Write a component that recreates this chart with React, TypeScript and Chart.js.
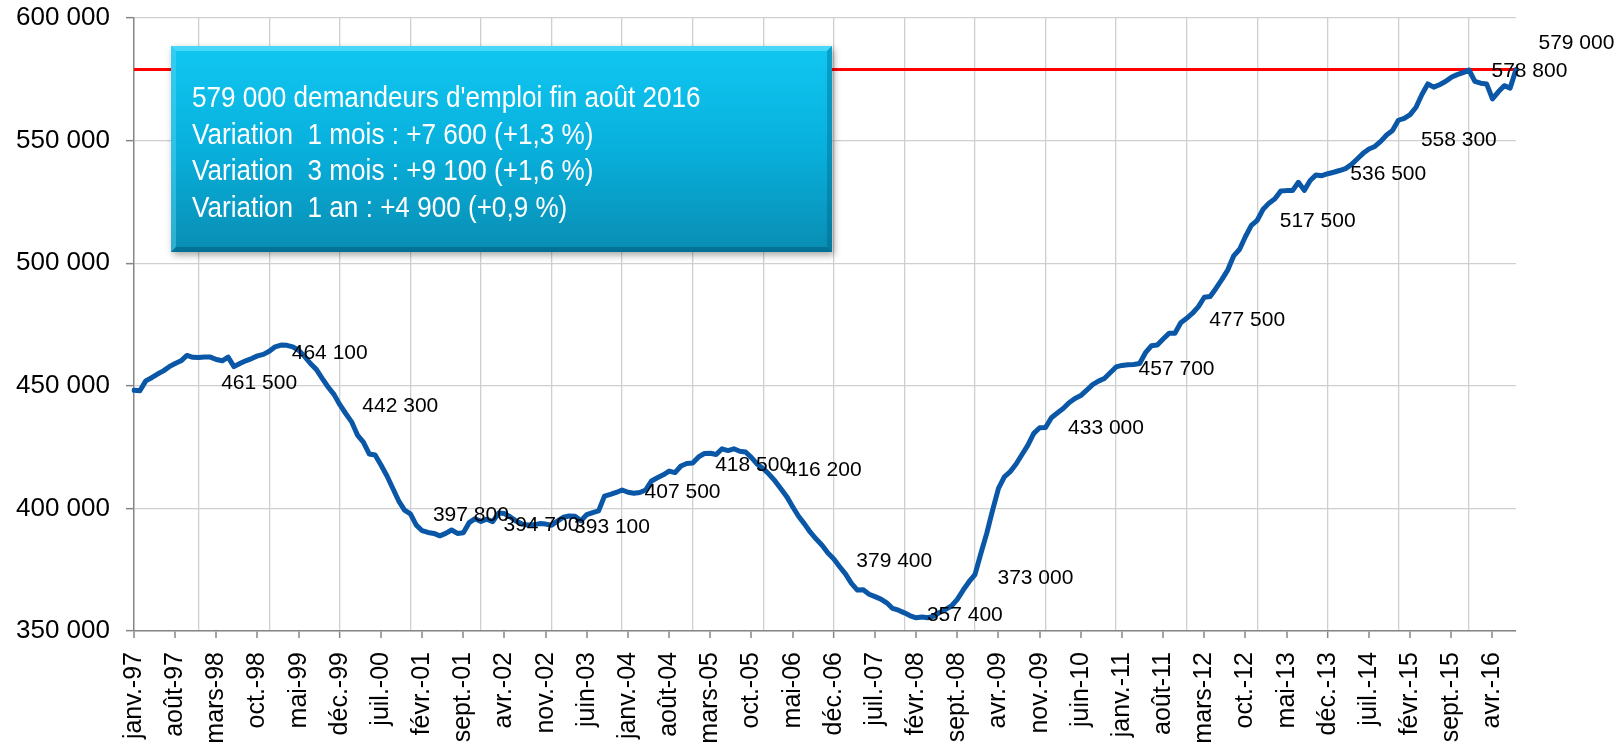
import { useEffect, useRef } from 'react';
import { Chart, registerables } from 'chart.js';

Chart.register(...registerables);

// ---------- data ----------
const MONTH_ABBR = ['janv.', 'févr.', 'mars', 'avr.', 'mai', 'juin', 'juil.', 'août', 'sept.', 'oct.', 'nov.', 'déc.'];
const YEARS = ['97', '98', '99', '00', '01', '02', '03', '04', '05', '06', '07', '08', '09', '10', '11', '12', '13', '14', '15', '16'];
const LAST_MONTH_2016 = 7; // août
const CATEGORIES: string[] = [];
YEARS.forEach((yy, yi) => {
  MONTH_ABBR.forEach((m, mi) => {
    if (yi === YEARS.length - 1 && mi > LAST_MONTH_2016) return;
    CATEGORIES.push(`${m}-${yy}`);
  });
});

// Demandeurs d'emploi, fin de mois, janv. 1997 - août 2016
const Y1997 = [448200, 448000, 452000, 453300, 454800, 456100, 457800, 459100, 460200, 462400, 461600, 461500];
const Y1998 = [461700, 461700, 460700, 460200, 461700, 457800, 459100, 460200, 461100, 462200, 462800, 464100];
const Y1999 = [465900, 466600, 466500, 465900, 464500, 462000, 459100, 456700, 453000, 449500, 446500, 442300];
const Y2000 = [438700, 435300, 429900, 427000, 422200, 421800, 417700, 413300, 408200, 403100, 399300, 397800];
const Y2001 = [393200, 390900, 390200, 389800, 388800, 389800, 391200, 389800, 390100, 394200, 395800, 394700];
const Y2002 = [395600, 394600, 398100, 397900, 396500, 394800, 393600, 393200, 393300, 393800, 393600, 393100];
const Y2003 = [394800, 396400, 396900, 396800, 395000, 397500, 398300, 399000, 405000, 405700, 406500, 407500];
const Y2004 = [406600, 406200, 406500, 407500, 411200, 412500, 413700, 415200, 414600, 417300, 418300, 418500];
const Y2005 = [421000, 422400, 422500, 422000, 424300, 423600, 424300, 423300, 423000, 420700, 418000, 416200];
const Y2006 = [413900, 411200, 408000, 404800, 400700, 396800, 393700, 390300, 387500, 385000, 381800, 379400];
const Y2007 = [376200, 373200, 369400, 366700, 366800, 365000, 364000, 363000, 361500, 359200, 358500, 357400];
const Y2008 = [356200, 355400, 355700, 355400, 356100, 357600, 358800, 360200, 362900, 366700, 370100, 373000];
const Y2009 = [381600, 389800, 399300, 408200, 412900, 415000, 418100, 422000, 425800, 430600, 432900, 433000];
const Y2010 = [437000, 438900, 440700, 443100, 444800, 446000, 448200, 450500, 451900, 453000, 455300, 457700];
const Y2011 = [458300, 458600, 458700, 459100, 463500, 466300, 466600, 469100, 471400, 471400, 475700, 477500];
const Y2012 = [479600, 482300, 486100, 486400, 489800, 493400, 497300, 503000, 505700, 510900, 515400, 517500];
const Y2013 = [522000, 524500, 526300, 529400, 529600, 529600, 533000, 529700, 533700, 536000, 535700, 536500];
const Y2014 = [537100, 537800, 538600, 540200, 542500, 544800, 546600, 547600, 549700, 552300, 554100, 558300];
const Y2015 = [559100, 560600, 563600, 568800, 573100, 571800, 572800, 574100, 575800, 576900, 577700, 578800];
const Y2016 = [574200, 573400, 573100, 567000, 569900, 572400, 571400, 579000];
const JOBSEEKERS = [
  ...Y1997, ...Y1998, ...Y1999, ...Y2000, ...Y2001, ...Y2002, ...Y2003, ...Y2004, ...Y2005, ...Y2006,
  ...Y2007, ...Y2008, ...Y2009, ...Y2010, ...Y2011, ...Y2012, ...Y2013, ...Y2014, ...Y2015, ...Y2016,
];

const REFERENCE_LEVEL = 579000;
const Y_MIN = 350000;
const Y_MAX = 600000;
const Y_STEP = 50000;
const TICK_EVERY = 7;

const LABELLED_MONTHS = [
  'déc.-97', 'déc.-98', 'déc.-99', 'déc.-00', 'déc.-01', 'déc.-02', 'déc.-03', 'déc.-04', 'déc.-05', 'déc.-06',
  'déc.-07', 'déc.-08', 'déc.-09', 'déc.-10', 'déc.-11', 'déc.-12', 'déc.-13', 'déc.-14', 'déc.-15', 'août-16',
];
// vertical shift of each value label (style)
const LABEL_DY = [25.5, 2, 2, 1.5, 3.5, 1.5, 2, 2, 1.5, 2, 2, 3.5, 1, 2, 1.5, 1, 1, 19.5, 1.5, -26];

const INFO_LINES = [
  "579 000 demandeurs d'emploi fin août 2016",
  'Variation  1 mois : +7 600 (+1,3 %)',
  'Variation  3 mois : +9 100 (+1,6 %)',
  'Variation  1 an : +4 900 (+0,9 %)',
];

// ---------- helpers ----------
const fmt = (v: number) => String(Math.round(v)).replace(/\B(?=(\d{3})+(?!\d))/g, ' ');
const FONT = '"Liberation Sans", Arial, Helvetica, sans-serif';

const valueLabelsPlugin = {
  id: 'valueLabels',
  afterDatasetsDraw(chart: any) {
    const { ctx } = chart;
    const xs = chart.scales.x;
    const ys = chart.scales.y;
    ctx.save();
    ctx.font = `21px ${FONT}`;
    ctx.fillStyle = '#000000';
    ctx.textAlign = 'left';
    ctx.textBaseline = 'middle';
    LABELLED_MONTHS.forEach((cat, i) => {
      const idx = CATEGORIES.indexOf(cat);
      const v = JOBSEEKERS[idx];
      const x = xs.getPixelForValue(idx);
      const y = ys.getPixelForValue(v);
      ctx.fillText(fmt(v), x + 22.5, y + LABEL_DY[i]);
    });
    ctx.restore();
  },
};

const infoBoxPlugin = {
  id: 'infoBox',
  afterDraw(chart: any) {
    const { ctx } = chart;
    const L = 171, T = 46, R = 832, B = 252;
    const W = R - L, H = B - T;
    const bv = 5;
    ctx.save();
    ctx.shadowColor = 'rgba(0,0,0,0.35)';
    ctx.shadowBlur = 7;
    ctx.shadowOffsetX = 2;
    ctx.shadowOffsetY = 3;
    const g = ctx.createLinearGradient(0, T, 0, B);
    g.addColorStop(0, '#10c7f2');
    g.addColorStop(0.5, '#08b0dc');
    g.addColorStop(1, '#098db3');
    ctx.fillStyle = g;
    ctx.fillRect(L, T, W, H);
    ctx.shadowColor = 'transparent';
    ctx.fillStyle = 'rgba(120,230,255,0.55)';
    ctx.beginPath();
    ctx.moveTo(L, T); ctx.lineTo(R, T); ctx.lineTo(R - bv, T + bv); ctx.lineTo(L + bv, T + bv); ctx.closePath();
    ctx.fill();
    ctx.fillStyle = 'rgba(90,215,245,0.45)';
    ctx.beginPath();
    ctx.moveTo(L, T); ctx.lineTo(L + bv, T + bv); ctx.lineTo(L + bv, B - bv); ctx.lineTo(L, B); ctx.closePath();
    ctx.fill();
    ctx.fillStyle = 'rgba(0,80,110,0.45)';
    ctx.beginPath();
    ctx.moveTo(L, B); ctx.lineTo(L + bv, B - bv); ctx.lineTo(R - bv, B - bv); ctx.lineTo(R, B); ctx.closePath();
    ctx.fill();
    ctx.fillStyle = 'rgba(0,90,120,0.35)';
    ctx.beginPath();
    ctx.moveTo(R, T); ctx.lineTo(R, B); ctx.lineTo(R - bv, B - bv); ctx.lineTo(R - bv, T + bv); ctx.closePath();
    ctx.fill();
    ctx.fillStyle = '#ffffff';
    ctx.font = `30px ${FONT}`;
    ctx.textAlign = 'left';
    ctx.textBaseline = 'alphabetic';
    const sx = 0.87;
    INFO_LINES.forEach((line, i) => {
      ctx.save();
      ctx.translate(192, 107 + i * 36.5);
      ctx.scale(sx, 1);
      ctx.fillText(line, 0, 0);
      ctx.restore();
    });
    ctx.restore();
  },
};

export default function App() {
  const canvasRef = useRef<HTMLCanvasElement | null>(null);

  useEffect(() => {
    document.body.style.margin = '0';
    const canvas = canvasRef.current;
    if (!canvas) return;
    Chart.defaults.font.family = FONT;
    Chart.defaults.color = '#000000';

    const chart = new Chart(canvas, {
      type: 'line',
      data: {
        labels: CATEGORIES,
        datasets: [
          {
            label: "Demandeurs d'emploi",
            data: JOBSEEKERS,
            borderColor: '#0957a6',
            borderWidth: 5,
            pointRadius: 0,
            tension: 0,
            fill: false,
            borderJoinStyle: 'round',
            borderCapStyle: 'round',
            order: 1,
          },
          {
            label: 'Niveau actuel',
            data: [
              { x: CATEGORIES[0], y: REFERENCE_LEVEL },
              { x: CATEGORIES[CATEGORIES.length - 1], y: REFERENCE_LEVEL },
            ] as any,
            borderColor: '#ff0000',
            borderWidth: 3,
            pointRadius: 0,
            tension: 0,
            fill: false,
            order: 2,
          },
        ],
      },
      options: {
        responsive: false,
        animation: false,
        events: [],
        layout: { padding: { top: 18, right: 104, left: 0, bottom: 0 } },
        plugins: {
          legend: { display: false },
          tooltip: { enabled: false },
        },
        scales: {
          x: {
            type: 'category',
            offset: false,
            border: { display: true, color: '#868686', width: 1.5 },
            grid: {
              display: true,
              drawOnChartArea: true,
              drawTicks: true,
              tickLength: 7,
              color: (c: any) => ((c.index - 11) % 12 === 0 ? '#cfcfcf' : 'rgba(0,0,0,0)'),
              lineWidth: (c: any) => ((c.index - 11) % 12 === 0 ? 1.3 : 0),
              tickColor: (c: any) => (c.index % TICK_EVERY === 0 ? '#868686' : 'rgba(0,0,0,0)'),
              tickWidth: (c: any) => (c.index % TICK_EVERY === 0 ? 1.5 : 0),
            } as any,
            ticks: {
              autoSkip: false,
              minRotation: 90,
              maxRotation: 90,
              padding: 14,
              color: '#000000',
              font: { size: 25, family: FONT },
              callback: (_v: any, i: number) => (i % TICK_EVERY === 0 ? CATEGORIES[i] : ''),
            },
            afterFit: (s: any) => { s.height = 116; s.paddingLeft = 0; s.paddingRight = 0; },
          },
          y: {
            min: Y_MIN,
            max: Y_MAX,
            border: { display: true, color: '#868686', width: 1.5 },
            grid: {
              color: '#cfcfcf',
              lineWidth: 1.3,
              tickLength: 8,
              tickColor: '#868686',
              tickWidth: 1.5,
            },
            ticks: {
              stepSize: Y_STEP,
              padding: 16,
              color: '#000000',
              font: { size: 26, family: FONT },
              callback: (v: any) => fmt(Number(v)),
            },
            afterFit: (s: any) => { s.width = 134; s.paddingTop = 0; s.paddingBottom = 0; },
          },
        },
      },
      plugins: [valueLabelsPlugin, infoBoxPlugin],
    });
    return () => chart.destroy();
  }, []);

  return (
    <div style={{ position: 'absolute', left: 0, top: 0, width: 1620, height: 747, background: '#ffffff' }}>
      <canvas ref={canvasRef} width={1620} height={747} style={{ display: 'block' }} />
    </div>
  );
}
